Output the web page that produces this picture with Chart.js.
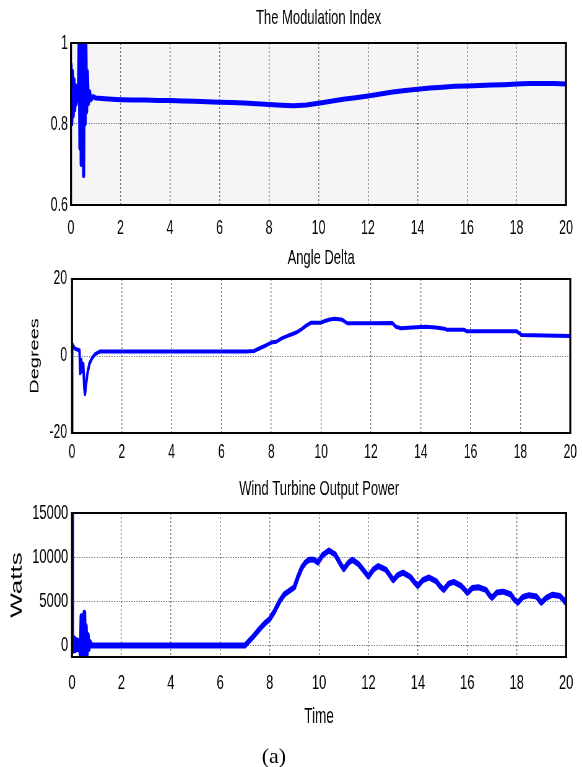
<!DOCTYPE html>
<html>
<head>
<meta charset="utf-8">
<script src="https://cdn.jsdelivr.net/npm/chart.js@4"></script>
<style>
  html, body { margin: 0; padding: 0; background: #fff; }
  #page { position: relative; width: 582px; height: 767px; overflow: hidden; }
  canvas { position: absolute; left: 0; }
  #caption { position: absolute; left: 0; width: 548px; top: 745px; text-align: center;
             font: 22px "Liberation Serif", serif; line-height: 22px; color: #000; }
</style>
</head>
<body>
<div id="page">
  <canvas id="modChart" width="940" height="245" style="top:0px;width:582px;height:245px"></canvas>
  <canvas id="angleChart" width="940" height="235" style="top:235px;width:582px;height:235px"></canvas>
  <canvas id="powerChart" width="940" height="260" style="top:470px;width:582px;height:260px"></canvas>
  <div id="caption">(a)</div>
</div>
<script>
// tick labels
const timeTicks = [0, 2, 4, 6, 8, 10, 12, 14, 16, 18, 20];
const modTicks = [0.6, 0.8, 1];
const angleTicks = [-20, 0, 20];
const powerTicks = [0, 5000, 10000, 15000];

// The Modulation Index
const modTime = [0, 0.03, 0.06, 0.09, 0.12, 0.15, 0.18, 0.21, 0.24, 0.27, 0.3,
  0.33, 0.36, 0.39, 0.41, 0.44, 0.47, 0.49, 0.51, 0.54, 0.57, 0.6, 0.63, 0.66, 0.7, 0.75, 0.8, 0.9,
  1, 1.5, 2, 2.5, 3, 3.5, 4, 4.5, 5, 5.5, 6, 6.5, 7, 7.5, 8, 8.5, 9, 9.5, 10,
  10.5, 11, 11.5, 12, 12.5, 13, 13.5, 14, 14.5, 15, 15.5, 16, 16.5, 17, 17.5, 18, 18.5, 19, 19.5, 20];
const modValue = [0.95, 0.80, 0.93, 0.82, 0.91, 0.835, 0.895, 0.85, 0.885, 0.86, 0.875,
  1.02, 0.74, 1.02, 0.70, 1.02, 0.80, 1.02, 0.672, 1.02, 0.80, 1.0, 0.83, 0.93, 0.85, 0.88, 0.86, 0.868,
  0.864, 0.862, 0.860, 0.859, 0.859, 0.858, 0.858, 0.857, 0.856, 0.855, 0.854, 0.853, 0.852, 0.850, 0.848, 0.846, 0.845, 0.847, 0.851,
  0.856, 0.861, 0.865, 0.869, 0.874, 0.879, 0.883, 0.886, 0.889, 0.891, 0.893, 0.894, 0.895, 0.896, 0.897, 0.899, 0.900, 0.900, 0.900, 0.899];

// Angle Delta (degrees)
const angleTime = [0, 0.005, 0.1, 0.2, 0.3, 0.33, 0.37, 0.41, 0.45, 0.49, 0.52, 0.56, 0.62, 0.7, 0.8, 0.93, 1.13,
  2, 3, 4, 5, 6, 7, 7.3, 7.6, 7.8, 8, 8.2, 8.4, 8.6, 8.8, 9, 9.2, 9.4, 9.6, 10, 10.15, 10.35, 10.55, 10.85, 11.05,
  12, 12.85, 13, 13.2, 13.65, 14.2, 14.6, 14.95, 15.05, 15.75, 15.85, 17.85, 18.05, 19, 20];
const angleValue = [-20, 3.2, 2.0, 1.7, 1.5, -4.5, -1.0, -4.0, -2.0, -8.0, -9.9, -7.5, -4.5, -2.0, -0.6, 0.5, 1.2,
  1.2, 1.2, 1.2, 1.2, 1.2, 1.2, 1.3, 2.2, 2.8, 3.5, 3.7, 4.5, 5.1, 5.6, 6.1, 6.9, 7.9, 8.65, 8.65, 9.1, 9.5, 9.7, 9.4, 8.5,
  8.5, 8.6, 7.6, 7.2, 7.4, 7.6, 7.4, 7.1, 6.8, 6.8, 6.4, 6.4, 5.45, 5.3, 5.2];

// Wind Turbine Output Power (watts)
const powerTime = [0, 0.01, 0.05, 0.1, 0.15, 0.2, 0.25, 0.3, 0.35, 0.38, 0.42, 0.46, 0.5, 0.53, 0.56, 0.6, 0.64, 0.68, 0.72, 0.8,
  1, 2, 3, 4, 5, 6, 7, 7.3, 7.6, 7.8, 8, 8.2, 8.4, 8.6, 8.8, 9, 9.15, 9.3, 9.45, 9.6, 9.8, 9.95,
  10.15, 10.4, 10.65, 10.85, 11, 11.2, 11.35, 11.6, 11.8, 12, 12.2, 12.4, 12.7, 12.85, 13, 13.2, 13.4, 13.7, 13.85, 14,
  14.2, 14.45, 14.75, 14.9, 15.05, 15.25, 15.45, 15.75, 15.9, 16, 16.2, 16.45, 16.75, 16.9, 17, 17.2, 17.45, 17.75, 17.9,
  18.05, 18.25, 18.5, 18.8, 18.92, 19, 19.2, 19.45, 19.75, 19.9, 20];
const powerValue = [15000, 500, -600, 800, -500, 600, -400, 500, -1300, 3300, -1300, 1500, 3700, -1300, 2200, -1000, 1200, -400, 400, 0,
  0, 0, 0, 0, 0, 0, 0, 900, 1900, 2500, 3000, 3900, 5000, 5800, 6200, 6600, 7800, 8800, 9400, 9700, 9700, 9400,
  10250, 10750, 10300, 9300, 8650, 9400, 9700, 9200, 8500, 7800, 8600, 9000, 8600, 8000, 7400, 8000, 8250, 7750, 7200, 6750,
  7400, 7700, 7250, 6700, 6300, 7000, 7200, 6750, 6300, 5950, 6500, 6600, 6300, 5700, 5400, 6000, 6100, 5800, 5200,
  4850, 5500, 5700, 5550, 5100, 4850, 5400, 5750, 5600, 5150, 4800];

// the figure is squashed horizontally: canvases are 940 wide, shown at 582
const squeeze = 582 / 940;
const FONT = '"Liberation Sans", Arial, sans-serif';
const GRID = 'rgba(0,0,0,0.5)';

// background of the plot area + black box around it
const plotBox = {
  id: 'plotBox',
  beforeDraw(chart, args, o) {
    if (!o.fill) return;
    const {ctx, chartArea: a} = chart;
    ctx.save();
    ctx.fillStyle = o.fill;
    ctx.fillRect(a.left, a.top, a.right - a.left, a.bottom - a.top);
    ctx.restore();
  },
  afterDatasetsDraw(chart) {
    const {ctx, chartArea: a} = chart;
    ctx.save();
    ctx.strokeStyle = '#000';
    ctx.lineWidth = 2;
    ctx.beginPath();
    ctx.moveTo(a.left, a.top); ctx.lineTo(a.right, a.top);
    ctx.moveTo(a.left, a.bottom); ctx.lineTo(a.right, a.bottom);
    ctx.stroke();
    ctx.lineWidth = 2 / squeeze;
    ctx.beginPath();
    ctx.moveTo(a.left, a.top - 1); ctx.lineTo(a.left, a.bottom + 1);
    ctx.moveTo(a.right, a.top - 1); ctx.lineTo(a.right, a.bottom + 1);
    ctx.stroke();
    ctx.restore();
  }
};

function makeChart(id, s) {
  return new Chart(document.getElementById(id), {
    type: 'line',
    data: {
      datasets: [{
        data: s.time.map((t, i) => ({x: t, y: s.value[i]})),
        borderColor: '#0000ff',
        borderWidth: s.lineWidth,
        borderJoinStyle: 'round',
        pointRadius: 0,
        tension: 0,
        fill: false,
        clip: 0
      }]
    },
    options: {
      responsive: false,
      animation: false,
      devicePixelRatio: 1,
      events: [],
      layout: {padding: {left: 0, right: s.padRight, top: 0, bottom: 0}},
      plugins: {
        legend: {display: false},
        tooltip: {enabled: false},
        title: {
          display: true, text: s.title, fullSize: false, color: '#000',
          font: {family: FONT, size: 21, weight: 'normal'},
          padding: {top: s.titleTop, bottom: s.titleBottom}
        },
        plotBox: {fill: s.bg}
      },
      scales: {
        x: {
          type: 'linear', min: 0, max: 20,
          afterBuildTicks: sc => { sc.ticks = timeTicks.map(v => ({value: v})); },
          afterFit: sc => { sc.height = s.xHeight; },
          grid: {color: GRID, lineWidth: 1.5, drawTicks: false},
          border: {display: false, dash: [2, 2]},
          ticks: {color: '#000', font: {family: FONT, size: s.tickSize}, padding: s.xPad,
                  autoSkip: false, maxRotation: 0, callback: v => String(v)},
          title: s.xTitle
            ? {display: true, text: s.xTitle, color: '#000', font: {family: FONT, size: 22}, padding: {top: 0, bottom: 0}}
            : {display: false}
        },
        y: {
          min: s.yMin, max: s.yMax,
          afterBuildTicks: sc => { sc.ticks = s.yTicks.map(v => ({value: v})); },
          afterFit: sc => { sc.width = s.left; },
          grid: {color: GRID, lineWidth: 1, drawTicks: false},
          border: {display: false, dash: [2, 2]},
          ticks: {color: '#000', font: {family: FONT, size: s.tickSize}, padding: s.yPad, callback: v => String(v)},
          title: s.yTitle
            ? {display: true, text: s.yTitle, color: '#000', font: {family: FONT, size: s.yTitleSize}, padding: {top: s.yTitlePad, bottom: 0}}
            : {display: false}
        }
      }
    },
    plugins: [plotBox]
  });
}

makeChart('modChart', {
  title: 'The Modulation Index', time: modTime, value: modValue, lineWidth: 5,
  yMin: 0.6, yMax: 1, yTicks: modTicks, bg: '#f5f5f5',
  left: 71 / squeeze, padRight: (582 - 566) / squeeze, titleTop: 5.7, titleBottom: 12.1,
  xHeight: 245 - 205, tickSize: 20, xPad: 11.3, yPad: 5
});

makeChart('angleChart', {
  title: 'Angle Delta', time: angleTime, value: angleValue, lineWidth: 4,
  yMin: -20, yMax: 20, yTicks: angleTicks, bg: null,
  yTitle: 'Degrees', yTitleSize: 20, yTitlePad: 44.5,
  left: 72 / squeeze, padRight: (582 - 572) / squeeze, titleTop: 10.4, titleBottom: 8.4,
  xHeight: 235 - 198, tickSize: 19.5, xPad: 8.1, yPad: 8
});

makeChart('powerChart', {
  title: 'Wind Turbine Output Power', time: powerTime, value: powerValue, lineWidth: 6,
  yMin: -1300, yMax: 15000, yTicks: powerTicks, bg: null,
  yTitle: 'Watts', yTitleSize: 26, yTitlePad: 12.4, xTitle: 'Time',
  left: 72 / squeeze, padRight: (582 - 575) / squeeze, titleTop: 6.4, titleBottom: 11.4,
  xHeight: 260 - 187, tickSize: 21, xPad: 14, yPad: 6
});
</script>
</body>
</html>
